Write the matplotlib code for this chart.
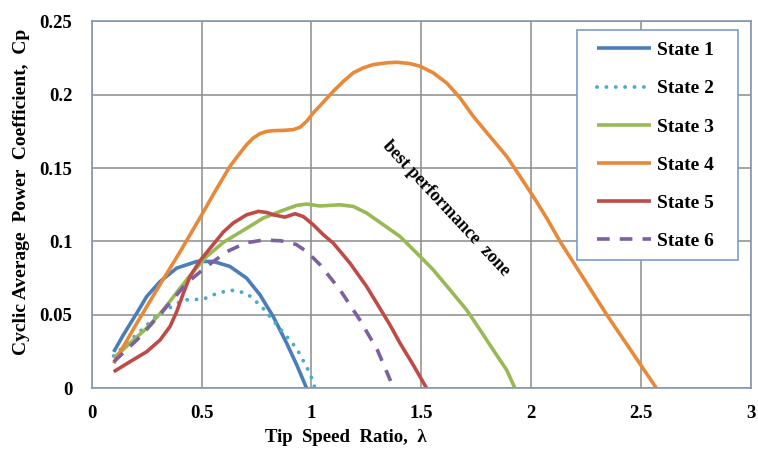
import numpy as np
import matplotlib
matplotlib.use('agg')
from matplotlib import pyplot as plt
from matplotlib.patches import Rectangle

plt.rcParams['font.family'] = ['Liberation Serif', 'DejaVu Serif']
plt.rcParams['font.weight'] = 'bold'

# values
x1 = [0.10, 0.144, 0.205, 0.25, 0.311, 0.387, 0.478, 0.553, 0.629, 0.705, 0.766, 0.826, 0.887, 0.933, 0.978]
y1 = [0.0248, 0.0364, 0.0512, 0.0625, 0.0727, 0.0819, 0.0864, 0.0864, 0.083, 0.075, 0.0636, 0.0488, 0.0307, 0.0159, 0.0]

x2 = [0.10, 0.20, 0.30, 0.417, 0.508, 0.553, 0.629, 0.705, 0.773, 0.849, 0.932, 0.993, 1.016]
y2 = [0.022, 0.036, 0.050, 0.0602, 0.0607, 0.0637, 0.067, 0.0648, 0.0557, 0.042, 0.0273, 0.0102, 0.0]

x3 = [0.10, 0.174, 0.25, 0.326, 0.402, 0.462, 0.523, 0.60, 0.705, 0.781, 0.857, 0.933, 0.978, 1.039, 1.13,
      1.19, 1.251, 1.327, 1.403, 1.479, 1.554, 1.63, 1.706, 1.767, 1.827, 1.888, 1.926]
y3 = [0.0205, 0.0307, 0.0409, 0.0534, 0.0682, 0.0795, 0.0898, 0.0995, 0.109, 0.116, 0.1205, 0.1246, 0.1255, 0.1242, 0.125,
      0.1239, 0.1194, 0.1114, 0.1034, 0.0921, 0.0807, 0.0671, 0.0534, 0.0398, 0.0261, 0.0125, 0.0]

x4 = [0.10, 0.20, 0.30, 0.402, 0.447, 0.50, 0.553, 0.629, 0.675, 0.705, 0.735, 0.766, 0.796, 0.826, 0.872, 0.917,
      0.948, 0.978, 1.008, 1.039, 1.099, 1.145, 1.19, 1.236, 1.281, 1.342, 1.388, 1.448, 1.494, 1.554, 1.615,
      1.676, 1.736, 1.812, 1.888, 1.949, 2.009, 2.07, 2.131, 2.344, 2.57]
y4 = [0.017, 0.043, 0.068, 0.093, 0.1045, 0.118, 0.132, 0.1512, 0.1603, 0.166, 0.1705, 0.1735, 0.175, 0.1755, 0.1757, 0.1762,
      0.1778, 0.1819, 0.1876, 0.1925, 0.2023, 0.2091, 0.2149, 0.2183, 0.2205, 0.2217, 0.2221, 0.2212, 0.2194, 0.2149, 0.208,
      0.1978, 0.1853, 0.1716, 0.158, 0.1443, 0.1307, 0.116, 0.100, 0.050, 0.0]

x5 = [0.10, 0.174, 0.25, 0.311, 0.356, 0.387, 0.417, 0.447, 0.493, 0.553, 0.599, 0.644, 0.705, 0.758, 0.796, 0.826,
      0.879, 0.925, 0.963, 1.008, 1.054, 1.099, 1.175, 1.251, 1.297, 1.357, 1.403, 1.463, 1.524]
y5 = [0.0113, 0.0181, 0.0249, 0.0329, 0.042, 0.0523, 0.0648, 0.0761, 0.087, 0.098, 0.1065, 0.1126, 0.1182, 0.1205, 0.1198, 0.1182,
      0.1166, 0.1189, 0.117, 0.1114, 0.1046, 0.0989, 0.0853, 0.0693, 0.058, 0.0432, 0.0307, 0.0159, 0.0]

x6 = [0.10, 0.22, 0.326, 0.432, 0.523, 0.614, 0.70, 0.78, 0.86, 0.93, 0.98, 1.04, 1.13, 1.22, 1.30, 1.36]
y6 = [0.018, 0.035, 0.053, 0.0716, 0.083, 0.093, 0.099, 0.101, 0.1005, 0.098, 0.093, 0.084, 0.067, 0.0466, 0.026, 0.005]

labels = ['State 1', 'State 2', 'State 3', 'State 4', 'State 5', 'State 6']
xticks = [0, 0.5, 1, 1.5, 2, 2.5, 3]
xtick_labels = ['0', '0.5', '1', '1.5', '2', '2.5', '3']
yticks = [0, 0.05, 0.1, 0.15, 0.2, 0.25]
ytick_labels = ['0', '0.05', '0.1', '0.15', '0.2', '0.25']

fig = plt.figure(figsize=(7.58, 4.58), dpi=100)
ax = fig.add_axes([0.121, 0.1522, 0.8698, 0.8013])

lw = 2.6
ax.plot(x1, y1, color='#4A7EBB', lw=lw, label=labels[0], solid_capstyle='butt', solid_joinstyle='round')
ax.plot(x2, y2, color='#4BACC6', lw=2.8, linestyle=(0, (0.01, 2.4)), dash_capstyle='round', label=labels[1])
ax.plot(x3, y3, color='#98B954', lw=lw, label=labels[2], solid_capstyle='butt', solid_joinstyle='round')
ax.plot(x4, y4, color='#E8893A', lw=lw, label=labels[3], solid_capstyle='butt', solid_joinstyle='round')
ax.plot(x5, y5, color='#BE4B48', lw=lw, label=labels[4], solid_capstyle='butt', solid_joinstyle='round')
ax.plot(x6, y6, color='#7D60A0', lw=lw, linestyle=(0, (3.5, 2.8)), label=labels[5])

ax.set_xlim(0, 3)
ax.set_ylim(0, 0.25)
ax.set_xticks(xticks)
ax.set_xticklabels(xtick_labels)
ax.set_yticks(yticks)
ax.set_yticklabels(ytick_labels)
ax.tick_params(length=0, labelsize=13.5)
ax.tick_params(axis='y', pad=14)
ax.tick_params(axis='x', pad=12)
ax.grid(True, color='#8C8C8C', lw=1.1)
ax.set_axisbelow(True)
for s in ax.spines.values():
    s.set_color('#8497B0')
    s.set_linewidth(1.2)

ax.text(1.614, 0.1223, 'best performance  zone', rotation=-47, ha='center', va='center',
        fontsize=13, fontweight='bold')

fig.text(346 / 758, 1 - 438 / 458, 'Tip  Speed  Ratio,  λ', ha='center', va='center', fontsize=13.5, fontweight='bold')
fig.text(22 / 758, 1 - 192 / 458, 'Cyclic Average  Power  Coefficient,  Cp', rotation=90,
         ha='center', va='center', fontsize=14, fontweight='bold')

# legend frame drawn separately so the padding can match
box = Rectangle((576.7 / 758, 1 - 260 / 458), 161 / 758, 230 / 458, transform=fig.transFigure,
                facecolor='white', edgecolor='#7A9CCF', lw=1.2, zorder=4.9, clip_on=False)
ax.add_patch(box)
leg = ax.legend(loc='upper left', bbox_to_anchor=(597 / 758, 1 - 41.5 / 458), bbox_transform=fig.transFigure,
                borderaxespad=0, borderpad=0, frameon=False,
                handlelength=2.8, handletextpad=0.3, labelspacing=1.06,
                prop={'size': 14, 'weight': 'bold'})

fig.savefig('out.png', dpi=100)
